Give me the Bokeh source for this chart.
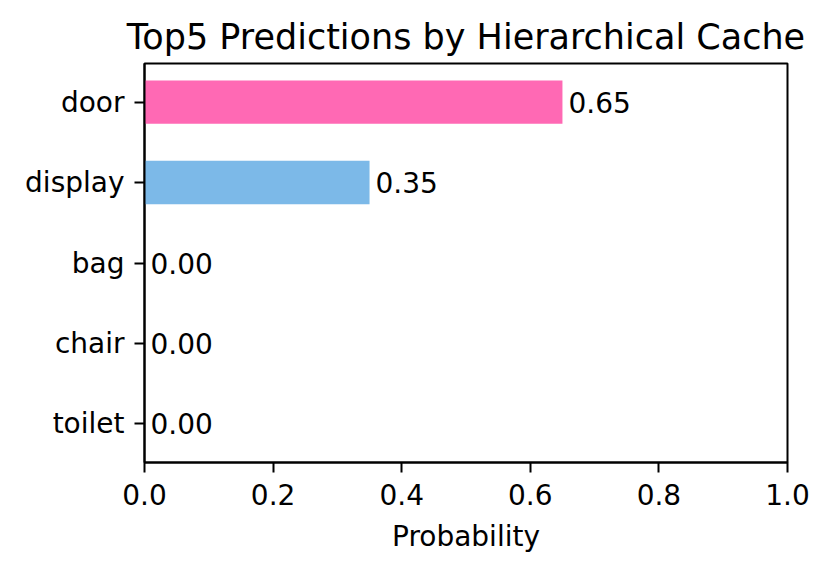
from bokeh.plotting import figure
from bokeh.models import Range1d, FixedTicker, ColumnDataSource, LabelSet
from bokeh.core.properties import value
from bokeh.embed import file_html
from bokeh.resources import INLINE

categories = ["door", "display", "bag", "chair", "toilet"]
probs = [0.65, 0.35, 0.0, 0.0, 0.0]
colors = ["#FF69B4", "#7CB9E8", "#1f77b4", "#1f77b4", "#1f77b4"]
x_ticks = [0.0, 0.2, 0.4, 0.6, 0.8, 1.0]

n = len(categories)
ypos = [n - 1 - i for i in range(n)]
labels = ["%.2f" % v for v in probs]

src = ColumnDataSource(dict(y=ypos, right=probs, color=colors, label=labels, cat=categories))

FONT = "DejaVu Sans"
p = figure(width=815, height=556, output_backend="svg", toolbar_location=None,
           x_range=Range1d(0, 1), y_range=Range1d(-0.48, 4.48),
           min_border_left=144, min_border_right=28, min_border_top=63, min_border_bottom=94,
           title="Top5 Predictions by Hierarchical Cache")
p.hbar(y="y", left=0, right="right", height=0.54, color="color", line_color=None, source=src)

p.add_layout(LabelSet(x="right", y="y", text="label", source=src, x_offset=6,
                      text_baseline="middle", text_font=value(FONT), text_font_size="28px",
                      text_color="black"))

p.title.text_font = FONT
p.title.text_font_size = "35px"
p.title.text_font_style = "normal"
p.title.align = "center"
p.title.text_color = "black"
p.title.standoff = 14

p.xgrid.visible = False
p.ygrid.visible = False
p.outline_line_color = "black"
p.outline_line_width = 2
p.outline_line_alpha = 1

p.xaxis.ticker = FixedTicker(ticks=x_ticks)
p.xaxis.major_label_overrides = {t: "%.1f" % t for t in x_ticks}
p.yaxis.ticker = FixedTicker(ticks=ypos)
p.yaxis.major_label_overrides = {y: c for y, c in zip(ypos, categories)}
p.xaxis.axis_label = "Probability"
for ax in (p.xaxis, p.yaxis):
    ax.axis_line_width = 2
    ax.axis_line_color = "black"
    ax.major_tick_line_width = 2
    ax.major_tick_line_color = "black"
    ax.major_tick_out = 10
    ax.major_tick_in = 0
    ax.minor_tick_line_color = None
    ax.major_label_text_font = FONT
    ax.major_label_text_font_size = "28px"
    ax.major_label_text_color = "black"
p.yaxis.major_label_standoff = 10
p.xaxis.major_label_standoff = 11
p.xaxis.axis_label_text_font = FONT
p.xaxis.axis_label_text_font_size = "28px"
p.xaxis.axis_label_text_font_style = "normal"
p.xaxis.axis_label_text_color = "black"
p.xaxis.axis_label_standoff = 12

open("out.html", "w").write(file_html(p, INLINE))
